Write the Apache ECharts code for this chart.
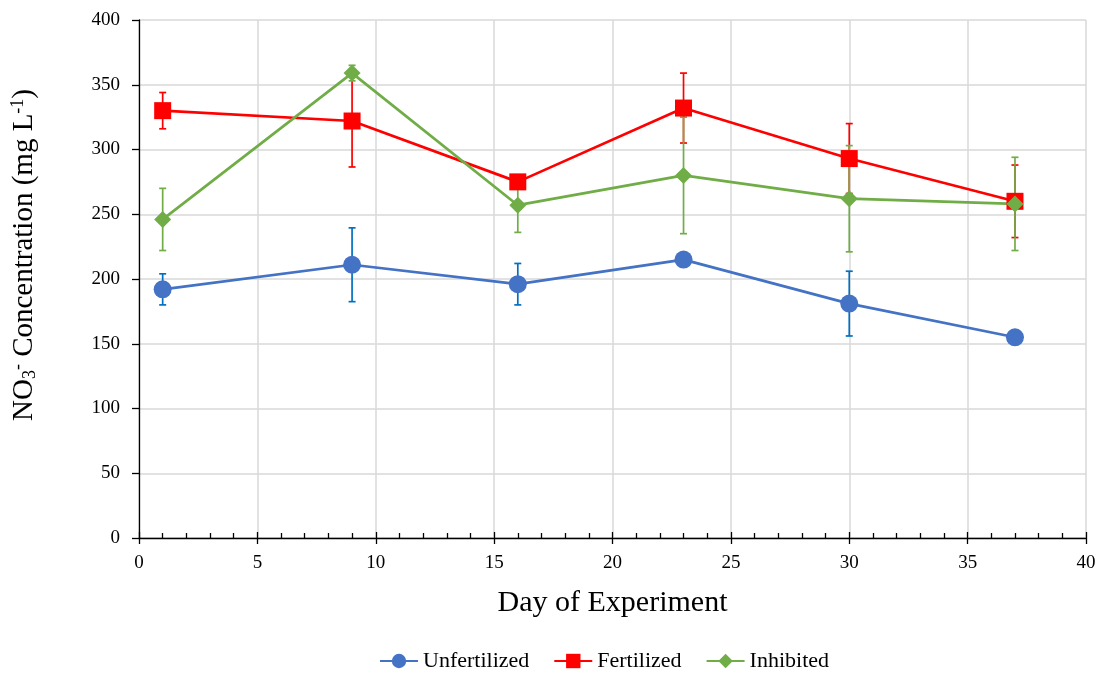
<!DOCTYPE html>
<html>
<head>
<meta charset="utf-8">
<script src="https://cdn.jsdelivr.net/npm/echarts@6/dist/echarts.min.js"></script>
<style>
  html, body { margin: 0; padding: 0; background: #fff; }
  #chart { width: 1102px; height: 673px; }
</style>
</head>
<body>
<div id="chart"></div>
<script>
  // days sampled
  const days = [1, 9, 16, 23, 30, 37];

  // NO3- concentration (mg L-1) and error (+/-)
  const unfertilized = [192, 211, 196, 215, 181, 155];
  const unfertilizedErr = [12, 28.5, 16, 4, 25, 4];
  const fertilized = [330, 322, 275, 332, 293, 260];
  const fertilizedErr = [14, 35.5, 5, 27, 27, 28];
  const inhibited = [246, 359, 257, 280, 262, 258];
  const inhibitedErr = [24, 6, 21, 45, 41, 36];

  const font = "'Liberation Serif', 'Times New Roman', serif";

  const myChart = echarts.init(document.getElementById('chart'));

  function pairs(vals) {
    return days.map((d, i) => [d, vals[i]]);
  }
  function errData(vals, errs) {
    return days.map((d, i) => [d, vals[i] - errs[i], vals[i] + errs[i]]);
  }
  function errSeries(vals, errs, color) {
    return {
      type: 'custom',
      z: 1,
      silent: true,
      encode: { x: 0, y: [1, 2] },
      data: errData(vals, errs),
      renderItem: function (params, api) {
        const lo = api.coord([api.value(0), api.value(1)]);
        const hi = api.coord([api.value(0), api.value(2)]);
        const w = 3.5;
        const st = { stroke: color, lineWidth: 1.7 };
        return {
          type: 'group',
          children: [
            { type: 'line', shape: { x1: lo[0], y1: lo[1], x2: hi[0], y2: hi[1] }, style: st },
            { type: 'line', shape: { x1: lo[0] - w, y1: lo[1], x2: lo[0] + w, y2: lo[1] }, style: st },
            { type: 'line', shape: { x1: hi[0] - w, y1: hi[1], x2: hi[0] + w, y2: hi[1] }, style: st }
          ]
        };
      }
    };
  }
  function lineSeries(name, vals, color, symbol, size) {
    return {
      name: name,
      type: 'line',
      z: 2,
      data: pairs(vals),
      symbol: symbol,
      symbolSize: size,
      showSymbol: true,
      lineStyle: { color: color, width: 2.7 },
      itemStyle: { color: color },
      emphasis: { disabled: true }
    };
  }

  myChart.setOption({
    animation: false,
    grid: { left: 139, right: 16, top: 20, bottom: 135 },
    legend: {
      top: 645,
      left: 374,
      itemWidth: 38,
      itemHeight: 18,
      itemGap: 24,
      data: ['Unfertilized', 'Fertilized', 'Inhibited'],
      textStyle: { fontFamily: font, fontSize: 22, color: '#000' }
    },
    xAxis: [
      {
        type: 'value',
        min: 0, max: 40, interval: 5,
        name: 'Day of Experiment',
        nameLocation: 'middle',
        nameGap: 50,
        nameTextStyle: { fontFamily: font, fontSize: 30, color: '#000' },
        axisLine: { lineStyle: { color: '#000', width: 1.3 } },
        axisTick: { inside: true, length: 6, lineStyle: { color: '#000', width: 1.3 } },
        minorTick: { show: true, splitNumber: 5, length: 5, lineStyle: { color: '#000', width: 1.3 } },
        axisLabel: { fontFamily: font, fontSize: 19, color: '#000', margin: 16 },
        splitLine: { lineStyle: { color: '#d9d9d9', width: 1.5 } }
      },
      {
        type: 'value',
        position: 'bottom',
        min: 0, max: 40, interval: 5,
        axisLine: { show: false },
        axisTick: { inside: false, length: 6, lineStyle: { color: '#000', width: 1.3 } },
        axisLabel: { show: false },
        splitLine: { show: false }
      }
    ],
    yAxis: {
      type: 'value',
      min: 0, max: 400, interval: 50,
      name: 'NO{sub|3}{sup|-} Concentration (mg L{sup|-1})',
      nameLocation: 'middle',
      nameRotate: 90,
      nameGap: 100,
      nameTextStyle: {
        fontFamily: font, fontSize: 29, color: '#000',
        padding: [0, 0, 0, 48],
        rich: {
          sub: { fontFamily: font, fontSize: 18, color: '#000', verticalAlign: 'bottom', padding: [12, 0, 0, 0] },
          sup: { fontFamily: font, fontSize: 18, color: '#000', verticalAlign: 'top', padding: [0, 0, 12, 0] }
        }
      },
      axisLine: { show: true, lineStyle: { color: '#000', width: 1.3 } },
      axisTick: { show: true, length: 7, lineStyle: { color: '#000', width: 1.3 } },
      axisLabel: { fontFamily: font, fontSize: 19, color: '#000', margin: 19 },
      splitLine: { lineStyle: { color: '#d9d9d9', width: 1.5 } }
    },
    series: [
      errSeries(unfertilized, unfertilizedErr, '#0070c0'),
      errSeries(fertilized, fertilizedErr, '#ff0000'),
      errSeries(inhibited, inhibitedErr, '#70ad47'),
      lineSeries('Unfertilized', unfertilized, '#4472c4', 'circle', 18),
      lineSeries('Fertilized', fertilized, '#ff0000', 'rect', 17),
      lineSeries('Inhibited', inhibited, '#70ad47', 'diamond', 17)
    ]
  });
</script>
</body>
</html>
